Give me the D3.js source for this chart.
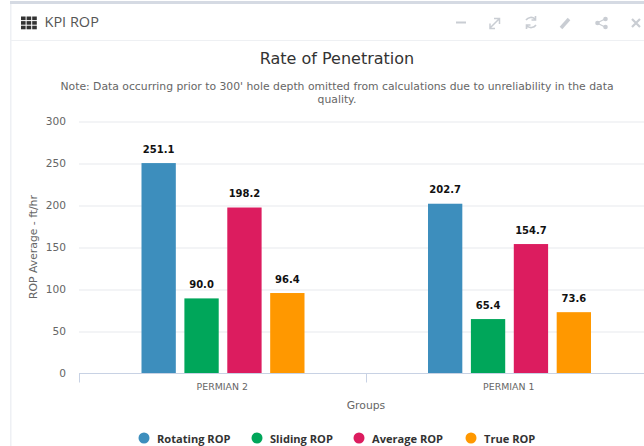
<!DOCTYPE html>
<html><head><meta charset="utf-8">
<script src="https://cdn.jsdelivr.net/npm/d3@7/dist/d3.min.js"></script>
<style>html,body{margin:0;padding:0;background:#fff;overflow:hidden}svg{display:block}text{font-family:"DejaVu Sans",sans-serif}</style>
</head><body><svg id="c" width="644" height="446"></svg>
<script>
const categories = ["PERMIAN 2", "PERMIAN 1"];
const seriesNames = ["Rotating ROP", "Sliding ROP", "Average ROP", "True ROP"];
const rotating = [251.1, 202.7];
const sliding = [90.0, 65.4];
const average = [198.2, 154.7];
const trueRop = [96.4, 73.6];
const yTicks = [0, 50, 100, 150, 200, 250, 300];
const colors = ["#3d8ebd", "#00a65a", "#dc1c5f", "#ff9800"];
const series = [rotating, sliding, average, trueRop];

const svg = d3.select("#c");
svg.append("rect").attr("x",0).attr("y",0).attr("width",644).attr("height",446).attr("fill","#fff");
svg.append("rect").attr("x",10).attr("y",1).attr("width",634).attr("height",3).attr("fill","#d5dae3");
svg.append("rect").attr("x",10).attr("y",4).attr("width",1.5).attr("height",442).attr("fill","#eef0f4");
svg.append("rect").attr("x",11).attr("y",40).attr("width",633).attr("height",1).attr("fill","#eef0f3");
const gi = svg.append("g").attr("fill","#333");
d3.range(3).forEach(r=>d3.range(3).forEach(c=>gi.append("rect").attr("x",21+c*5.6).attr("y",16.5+r*4.6).attr("width",4.6).attr("height",3.6)));
svg.append("text").attr("x",44.5).attr("y",27).attr("font-size",14.5).attr("fill","#555").style("font-family","'Open Sans',sans-serif").text("KPI ROP");
const ic = "#c9cdd3";
const hg = svg.append("g").attr("fill","none").attr("stroke",ic).attr("stroke-width",2);
hg.append("path").attr("d","M456 22.5H466");
hg.append("path").attr("d","M490 28L499 19M494 18.5H499.5V24M490 23.5V28.5H495").attr("stroke-width",1.5);
hg.append("path").attr("d","M526 20A6 6 0 0 1 535 19M536 25A6 6 0 0 1 527 26M535.5 16V20H531.5M526.5 29V25H530.5").attr("stroke-width",1.6);
hg.append("path").attr("d","M561 28L569 19").attr("stroke-width",3.5);
hg.append("path").attr("d","M597 23L605 19M597 23L605 27").attr("stroke-width",1.2);
[[597,23],[605,19],[605,27]].forEach(p=>svg.append("circle").attr("cx",p[0]+.5).attr("cy",p[1]).attr("r",2.3).attr("fill",ic));
hg.append("path").attr("d","M632 19L640 27M640 19L632 27").attr("stroke-width",2.2);
svg.append("text").attr("x",337).attr("y",64).attr("text-anchor","middle").attr("font-size",16).attr("fill","#333").text("Rate of Penetration");
svg.append("text").attr("x",337).attr("y",90).attr("text-anchor","middle").attr("font-size",10.8).attr("fill","#666").text("Note: Data occurring prior to 300' hole depth omitted from calculations due to unreliability in the data");
svg.append("text").attr("x",337).attr("y",103).attr("text-anchor","middle").attr("font-size",10.8).attr("fill","#666").text("quality.");

const x0 = d3.scaleBand().domain(categories).range([79,652]);
const y = d3.scaleLinear().domain([0,300]).range([374,122]);
const x1 = d3.scaleBand().domain(d3.range(4)).range([62.5,225.5]).paddingInner(0.2).paddingOuter(0);
svg.append("g").selectAll("line").data(yTicks.slice(1)).join("line")
 .attr("x1",79).attr("x2",644).attr("y1",d=>y(d)).attr("y2",d=>y(d)).attr("stroke","#eff0f3").attr("stroke-width",1.5);
svg.append("g").selectAll("text").data(yTicks).join("text").attr("x",66).attr("y",d=>y(d)+3.2).attr("text-anchor","end")
 .attr("font-size",10.6).attr("fill","#666").text(d=>d);
series.forEach((vals,si)=>{
 const g=svg.append("g");
 g.selectAll("rect").data(vals).join("rect")
  .attr("x",(d,i)=>x0(categories[i])+x1(si)).attr("width",x1.bandwidth())
  .attr("y",d=>y(d)).attr("height",d=>y(0)-y(d)).attr("fill",colors[si]);
 g.selectAll("text").data(vals).join("text")
  .attr("x",(d,i)=>x0(categories[i])+x1(si)+x1.bandwidth()/2).attr("y",d=>y(d)-10.5)
  .attr("text-anchor","middle").attr("font-size",10).attr("font-weight","bold").attr("fill","#111").text(d=>d.toFixed(1));
});
const ax = svg.append("g").attr("transform","translate(0,373.5)");
ax.append("line").attr("x1",79).attr("x2",644).attr("stroke","#c8d2e4");
ax.selectAll(".t").data([79,366]).join("line").attr("x1",d=>d+.5).attr("x2",d=>d+.5).attr("y1",0).attr("y2",9).attr("stroke","#c8d2e4");
svg.append("g").selectAll("text").data(categories).join("text").attr("x",d=>x0(d)+x0.bandwidth()/2).attr("y",390)
 .attr("text-anchor","middle").attr("font-size",9.4).attr("fill","#666").text(d=>d);
svg.append("text").attr("x",366).attr("y",409).attr("text-anchor","middle").attr("font-size",10.8).attr("fill","#666").text("Groups");
svg.append("text").attr("transform","translate(37,247) rotate(-90)").attr("text-anchor","middle").attr("font-size",10.8).attr("fill","#666").text("ROP Average - ft/hr");
const lx=[144,257,359,471];
const lg=svg.append("g").selectAll("g").data(seriesNames).join("g").attr("transform",(d,i)=>`translate(${lx[i]},438)`);
lg.append("circle").attr("r",5.5).attr("fill",(d,i)=>colors[i]);
lg.append("text").attr("x",13).attr("y",4.5).attr("font-size",11.1).attr("font-weight","bold").attr("fill","#333").style("font-family","'Open Sans',sans-serif").text(d=>d);
</script></body></html>
